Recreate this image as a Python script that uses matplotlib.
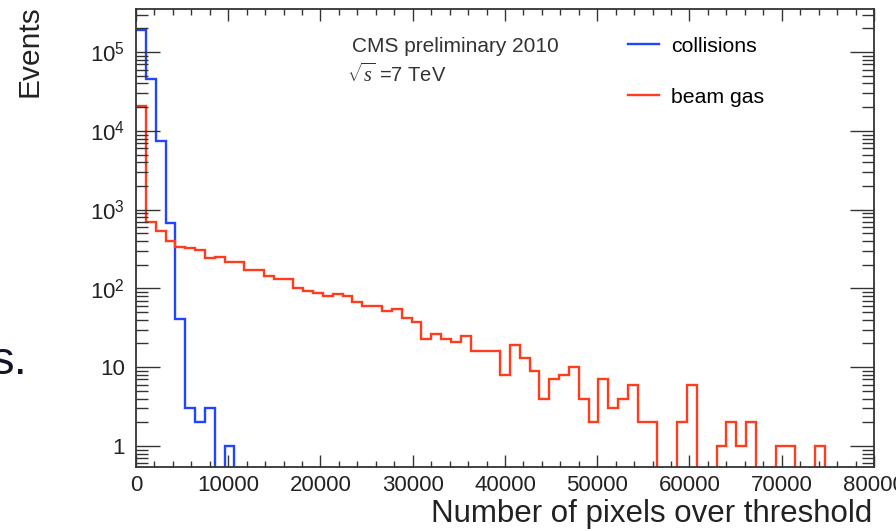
import numpy as np
import matplotlib
matplotlib.use("Agg")
import matplotlib.pyplot as plt
from matplotlib.ticker import FixedLocator, MultipleLocator, NullFormatter

plt.rcParams['font.family'] = ['Liberation Sans', 'DejaVu Sans']
plt.rcParams['mathtext.fontset'] = 'custom'
plt.rcParams['mathtext.rm'] = 'Liberation Sans'
plt.rcParams['mathtext.it'] = 'Liberation Serif:italic'

# 75 bins from 0 to 80000 pixels
n_bins = 75
x_min, x_max = 0, 80000

collisions = [192000, 45000, 7400, 680, 41, 3, 2, 3, 0, 1]
beam_gas = [21000, 707, 532, 405, 340, 324, 310, 242, 254, 219,
            219, 169, 169, 142, 132, 132, 101, 94, 87, 79,
            84, 79, 67, 59, 59, 51, 54, 42, 38, 23,
            26, 23, 21, 25, 16, 16, 16, 8, 19, 13,
            9, 4, 7, 8, 10, 4, 2, 7, 3, 4,
            6, 2, 2, 0, 0, 2, 6, 0, 0, 1,
            2, 1, 2, 0, 0, 1, 1, 0, 0, 1]

xticks = [0, 10000, 20000, 30000, 40000, 50000, 60000, 70000, 80000]
yticks = [1, 10, 100, 1000, 10000, 100000]
ytick_labels = ['1', '10', r'$10^2$', r'$10^3$', r'$10^4$', r'$10^5$']

edges = np.linspace(x_min, x_max, n_bins + 1)


def full(vals):
    v = np.zeros(n_bins)
    v[:len(vals)] = vals
    # empty bins drawn below the axis, like ROOT does
    return np.where(v > 0, v, 1e-3)


fig = plt.figure(figsize=(8.96, 5.31), dpi=100)
ax = fig.add_axes([0.1518, 0.1205, 0.8236, 0.862])

ax.stairs(full(collisions), edges, baseline=None, color='#2245ff', lw=1.7, label='collisions')
ax.stairs(full(beam_gas), edges, baseline=None, color='#ff3c1e', lw=1.7, label='beam gas')

ax.set_yscale('log')
ax.set_xlim(x_min, x_max)
ax.set_ylim(0.54, 3.5e5)

ax.set_xticks(xticks)
ax.set_xticklabels([str(t) for t in xticks])
ax.xaxis.set_minor_locator(MultipleLocator(2000))
ax.set_yticks(yticks)
ax.set_yticklabels(ytick_labels)
minor_y = [m * 10.0 ** e for e in range(-1, 6) for m in range(2, 10)]
ax.yaxis.set_minor_locator(FixedLocator(minor_y))
ax.yaxis.set_minor_formatter(NullFormatter())

ax.tick_params(axis='both', which='both', direction='in', top=True, right=True,
               width=1.0, color='#333333', labelsize=16, labelcolor='#222222')
ax.tick_params(axis='x', which='major', length=8.5, pad=6)
ax.tick_params(axis='x', which='minor', length=4.5)
ax.tick_params(axis='y', which='major', length=17, pad=8)
ax.tick_params(axis='y', which='minor', length=8.5)
for s in ax.spines.values():
    s.set_linewidth(1.3)
    s.set_color('#333333')

ax.text(0.293, 0.918, 'CMS preliminary 2010', transform=ax.transAxes,
        fontsize=15, color='#333333', va='center', ha='left')
ax.text(0.286, 0.858, r'$\sqrt{s}$ =7 TeV', transform=ax.transAxes,
        fontsize=14.5, color='#333333', va='center', ha='left')

ax.legend(loc='upper left', bbox_to_anchor=(0.667, 0.94), frameon=False,
          fontsize=15.3, handlelength=1.45, handletextpad=0.55, labelspacing=1.5,
          borderpad=0, borderaxespad=0)

fig.text(30 / 896, 1 - 5 / 531, 'Events', rotation=90, ha='center', va='top',
         fontsize=21.5, color='#222222')
fig.text(872 / 896, 1 - 514 / 531, 'Number of pixels over threshold',
         ha='right', va='center', fontsize=22.5, color='#222222')
fig.text(28 / 896, 1 - 362 / 531, 's.', ha='right', va='center',
         fontsize=34, color='#141428')

fig.savefig('out.png', dpi=100)
